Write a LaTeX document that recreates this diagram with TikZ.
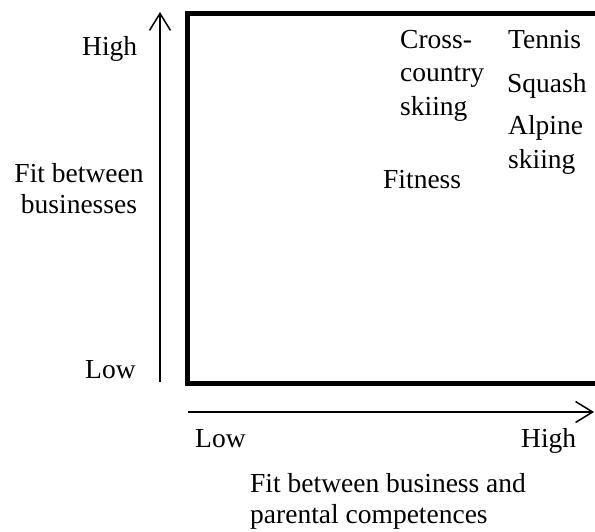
\documentclass[tikz,border=0pt]{standalone}
\usepackage{fontspec}
\setmainfont{Liberation Serif}
\usetikzlibrary{arrows.meta}
\begin{document}
\begin{tikzpicture}[x=1pt,y=-1pt,
  lbl/.style={inner sep=0pt, font=\fontsize{27.5}{33.5}\selectfont},
  axtitle/.style={inner sep=0pt, font=\fontsize{27.5}{31}\selectfont},
  axisarrow/.style={line width=1.5pt, -{Straight Barb[length=17pt,width=21pt,line width=1.5pt]}},
  frame/.style={line width=5pt}]
\useasboundingbox (0,0) rectangle (595,531);
\fill[white] (0,0) rectangle (595,531);

% thick open frame of the matrix
\coordinate (tr) at (598,13);
\coordinate (tl) at (187.5,13);
\coordinate (bl) at (187.5,383);
\coordinate (br) at (598,383);
\draw[frame] (tr) -- (tl) -- (bl) -- (br);

% axes
\coordinate (ys) at (160,382);
\coordinate (ye) at (160,12);
\draw[axisarrow] (ys) -- (ye);
\coordinate (xs) at (188,412);
\coordinate (xe) at (594,412);
\draw[axisarrow] (xs) -- (xe);

% axis labels (multi-line nodes are placed by the baseline of their last line)
\node[lbl, anchor=base west] (yhigh) at (82,55) {High};
\node[lbl, anchor=base west] (ylow) at (85,378) {Low};
\node[axtitle, anchor=base, align=center] (ytitle) at (79,213) {Fit between\\businesses};
\node[lbl, anchor=base west] (xlow) at (195,447) {Low};
\node[lbl, anchor=base west] (xhigh) at (521,447) {High};
\node[axtitle, anchor=base west, align=left] (xtitle) at (250,523) {Fit between business and\\parental competences};

% businesses placed in the matrix
\node[lbl, anchor=base west, align=left] (xc) at (400,115) {Cross-\\country\\skiing};
\node[lbl, anchor=base west] (tennis) at (508,48) {Tennis};
\node[lbl, anchor=base west] (squash) at (507,92) {Squash};
\node[lbl, anchor=base west, align=left] (alpine) at (508,168) {Alpine\\skiing};
\node[lbl, anchor=base west] (fitness) at (383,188) {Fitness};
\end{tikzpicture}
\end{document}
